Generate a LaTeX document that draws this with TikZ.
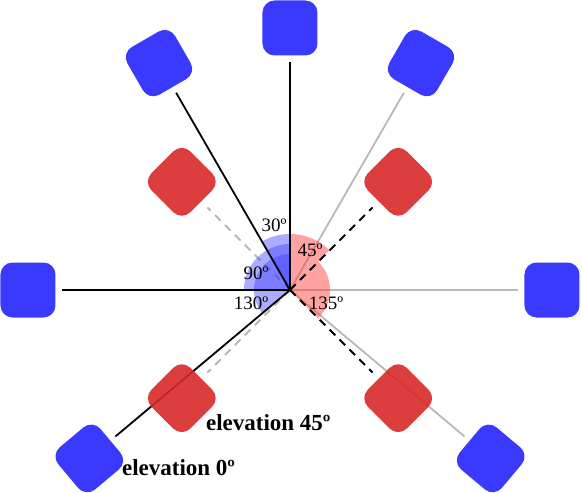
\documentclass[tikz,border=0pt]{standalone}
\usepackage{fontspec}
\setmainfont{Liberation Serif}
\usetikzlibrary{positioning, backgrounds}
\definecolor{cblue}{HTML}{3A3AFF}
\definecolor{cred}{HTML}{D82828}
\definecolor{cpink}{HTML}{FF4545}
\definecolor{cgrey}{HTML}{B8B8B8}
\tikzset{
  every picture/.style={line width=1.5pt},
  tile/.style={fill=#1, rounded corners=12pt, minimum size=55pt, inner sep=0pt},
  tile/.default=cblue,
  ray/.style={draw=#1, line width=1.8pt, shorten >=6pt},
  ray/.default=black,
  dashray/.style={draw=#1, line width=1.8pt, dash pattern=on 8pt off 6pt, shorten >=8pt},
  dashray/.default=black,
  wedge/.style={fill=#1, fill opacity=0.42},
  anglelabel/.style={font=\fontsize{19}{19}\selectfont},
  caption/.style={font=\fontsize{23}{23}\selectfont\bfseries, anchor=west},
}

\begin{document}
\begin{tikzpicture}[x=1pt, y=1pt]
  \useasboundingbox (-290,-203) rectangle (292,290);
  \coordinate (o) at (0,0);
  % elevation 0
  \foreach \a/\n in {0/r, 60/tr, 90/t, 120/tl, 180/l, 220/bl, 320/br}
    \node[tile=cblue, rotate=\a] (b\n) at (\a:262) {};
  % elevation 45
  \foreach \a/\n in {45/tr, 135/tl, 225/bl, 315/br}
    \node[tile=cred, fill opacity=0.9, rotate=\a] (r\n) at (\a:153) {};
  \begin{scope}[on background layer]
    \foreach \n in {tr, r, br} \draw[ray=cgrey] (o) -- (b\n);
    \foreach \n in {tl, bl} \draw[dashray=cgrey] (o) -- (r\n);
    \fill[wedge=cblue] (o) -- (90:56) arc[start angle=90, end angle=120, radius=56pt] -- cycle;
    \fill[wedge=cblue] (o) -- (90:46) arc[start angle=90, end angle=180, radius=46pt] -- cycle;
    \fill[wedge=cblue] (o) -- (90:36) arc[start angle=90, end angle=220, radius=36pt] -- cycle;
    \fill[wedge=cpink, fill opacity=0.5] (o) -- (-45:40) arc[start angle=-45, end angle=45, radius=40pt]
      -- (45:56) arc[start angle=45, end angle=90, radius=56pt] -- cycle;
    \foreach \n in {t, tl, l, bl} \draw[ray] (o) -- (b\n);
    \foreach \n in {tr, br} \draw[dashray] (o) -- (r\n);
  \end{scope}
  \node[anglelabel] (a30) at (-16,65) {30º};
  \node[anglelabel] (a45) at (20,40) {45º};
  \node[anglelabel] (a90) at (-34,17) {90º};
  \node[anglelabel] (a130) at (-39,-13) {130º};
  \node[anglelabel] (a135) at (36,-13) {135º};
  \node[caption] (e45) at (-88,-133) {elevation 45º};
  \node[caption] (e0) at (-172,-178) {elevation 0º};
\end{tikzpicture}
\end{document}
